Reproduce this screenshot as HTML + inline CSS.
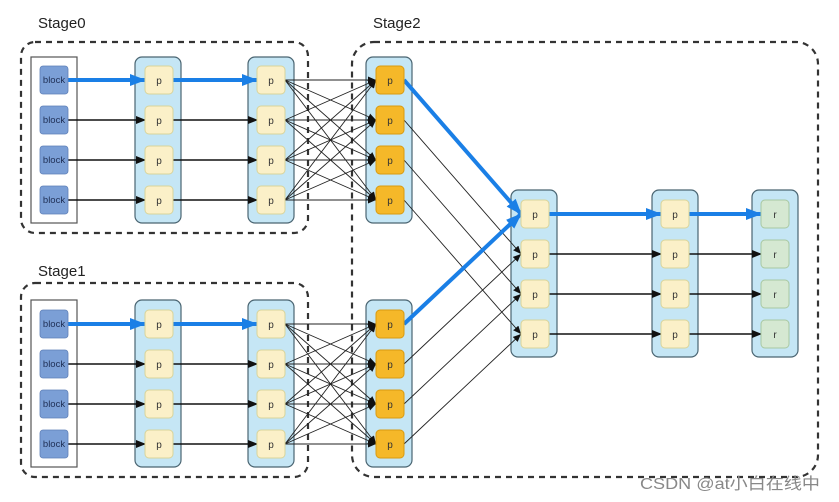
<!DOCTYPE html>
<html><head><meta charset="utf-8"><style>
html,body{margin:0;padding:0;background:#fff;}
svg{display:block;}
text{font-family:"Liberation Sans","Noto Sans CJK SC",sans-serif;}
</style></head><body>
<svg width="839" height="502" viewBox="0 0 839 502" xmlns="http://www.w3.org/2000/svg">
<defs>
<marker id="ab" markerWidth="10" markerHeight="8" refX="9" refY="4" orient="auto" markerUnits="userSpaceOnUse"><path d="M0,0 L10,4 L0,8 z" fill="#111"/></marker>
<marker id="abs" markerWidth="8" markerHeight="7" refX="8" refY="3.5" orient="auto" markerUnits="userSpaceOnUse"><path d="M0,0 L8,3.5 L0,7 z" fill="#111"/></marker>
<marker id="ablue" markerWidth="16" markerHeight="12" refX="15" refY="6" orient="auto" markerUnits="userSpaceOnUse"><path d="M0,0 L16,6 L0,12 z" fill="#1a7fe6"/></marker>
</defs>

<text x="38" y="28" font-size="15" fill="#222">Stage0</text>
<text x="38" y="276" font-size="15" fill="#222">Stage1</text>
<text x="373" y="28" font-size="15" fill="#222">Stage2</text>

<g fill="none" stroke="#333" stroke-width="2.2" stroke-dasharray="6,5">
<rect x="21" y="42" width="287" height="191" rx="14"/>
<rect x="21" y="283" width="287" height="194" rx="14"/>
<rect x="352" y="42" width="466" height="435" rx="22"/>
</g>

<rect x="31" y="57" width="46" height="166" fill="#fff" stroke="#555" stroke-width="1.2"/>
<rect x="31" y="300" width="46" height="167" fill="#fff" stroke="#555" stroke-width="1.2"/>

<g fill="#c5e6f5" stroke="#4a6572" stroke-width="1.2">
<rect x="135" y="57" width="46" height="166" rx="7"/>
<rect x="248" y="57" width="46" height="166" rx="7"/>
<rect x="366" y="57" width="46" height="166" rx="7"/>
<rect x="135" y="300" width="46" height="167" rx="7"/>
<rect x="248" y="300" width="46" height="167" rx="7"/>
<rect x="366" y="300" width="46" height="167" rx="7"/>
<rect x="511" y="190" width="46" height="167" rx="7"/>
<rect x="652" y="190" width="46" height="167" rx="7"/>
<rect x="752" y="190" width="46" height="167" rx="7"/>
</g>

<g stroke="#222" stroke-width="0.9" marker-end="url(#abs)">
<line x1="285" y1="80" x2="376" y2="80"/><line x1="285" y1="80" x2="376" y2="120"/><line x1="285" y1="80" x2="376" y2="160"/><line x1="285" y1="80" x2="376" y2="200"/>
<line x1="285" y1="120" x2="376" y2="80"/><line x1="285" y1="120" x2="376" y2="120"/><line x1="285" y1="120" x2="376" y2="160"/><line x1="285" y1="120" x2="376" y2="200"/>
<line x1="285" y1="160" x2="376" y2="80"/><line x1="285" y1="160" x2="376" y2="120"/><line x1="285" y1="160" x2="376" y2="160"/><line x1="285" y1="160" x2="376" y2="200"/>
<line x1="285" y1="200" x2="376" y2="80"/><line x1="285" y1="200" x2="376" y2="120"/><line x1="285" y1="200" x2="376" y2="160"/><line x1="285" y1="200" x2="376" y2="200"/>
<line x1="285" y1="324" x2="376" y2="324"/><line x1="285" y1="324" x2="376" y2="364"/><line x1="285" y1="324" x2="376" y2="404"/><line x1="285" y1="324" x2="376" y2="444"/>
<line x1="285" y1="364" x2="376" y2="324"/><line x1="285" y1="364" x2="376" y2="364"/><line x1="285" y1="364" x2="376" y2="404"/><line x1="285" y1="364" x2="376" y2="444"/>
<line x1="285" y1="404" x2="376" y2="324"/><line x1="285" y1="404" x2="376" y2="364"/><line x1="285" y1="404" x2="376" y2="404"/><line x1="285" y1="404" x2="376" y2="444"/>
<line x1="285" y1="444" x2="376" y2="324"/><line x1="285" y1="444" x2="376" y2="364"/><line x1="285" y1="444" x2="376" y2="404"/><line x1="285" y1="444" x2="376" y2="444"/>
<line x1="404" y1="120" x2="521" y2="254"/><line x1="404" y1="160" x2="521" y2="294"/><line x1="404" y1="200" x2="521" y2="334"/>
<line x1="404" y1="364" x2="521" y2="254"/><line x1="404" y1="404" x2="521" y2="294"/><line x1="404" y1="444" x2="521" y2="334"/>
</g>

<g stroke="#111" stroke-width="1.6" marker-end="url(#ab)">
<line x1="68" y1="120" x2="145" y2="120"/><line x1="68" y1="160" x2="145" y2="160"/><line x1="68" y1="200" x2="145" y2="200"/>
<line x1="173" y1="120" x2="257" y2="120"/><line x1="173" y1="160" x2="257" y2="160"/><line x1="173" y1="200" x2="257" y2="200"/>
<line x1="68" y1="364" x2="145" y2="364"/><line x1="68" y1="404" x2="145" y2="404"/><line x1="68" y1="444" x2="145" y2="444"/>
<line x1="173" y1="364" x2="257" y2="364"/><line x1="173" y1="404" x2="257" y2="404"/><line x1="173" y1="444" x2="257" y2="444"/>
<line x1="549" y1="254" x2="661" y2="254"/><line x1="549" y1="294" x2="661" y2="294"/><line x1="549" y1="334" x2="661" y2="334"/>
<line x1="689" y1="254" x2="761" y2="254"/><line x1="689" y1="294" x2="761" y2="294"/><line x1="689" y1="334" x2="761" y2="334"/>
</g>

<g stroke="#1a7fe6" stroke-width="4" marker-end="url(#ablue)" fill="none">
<line x1="68" y1="80" x2="145" y2="80"/><line x1="173" y1="80" x2="257" y2="80"/>
<line x1="68" y1="324" x2="145" y2="324"/><line x1="173" y1="324" x2="257" y2="324"/>
<line x1="404" y1="80" x2="521" y2="214"/><line x1="404" y1="324" x2="521" y2="214"/>
<line x1="549" y1="214" x2="661" y2="214"/><line x1="689" y1="214" x2="761" y2="214"/>
</g>

<g fill="#7b9fd6" stroke="#5f80b8" stroke-width="0.8">
<rect x="40" y="66" width="28" height="28" rx="3"/><rect x="40" y="106" width="28" height="28" rx="3"/><rect x="40" y="146" width="28" height="28" rx="3"/><rect x="40" y="186" width="28" height="28" rx="3"/>
<rect x="40" y="310" width="28" height="28" rx="3"/><rect x="40" y="350" width="28" height="28" rx="3"/><rect x="40" y="390" width="28" height="28" rx="3"/><rect x="40" y="430" width="28" height="28" rx="3"/>
</g>
<g font-size="9.5" fill="#1f2f55" text-anchor="middle">
<text x="54" y="83">block</text><text x="54" y="123">block</text><text x="54" y="163">block</text><text x="54" y="203">block</text>
<text x="54" y="327">block</text><text x="54" y="367">block</text><text x="54" y="407">block</text><text x="54" y="447">block</text>
</g>

<g fill="#fbf0c8" stroke="#d8d49a" stroke-width="1">
<rect x="145" y="66" width="28" height="28" rx="4"/><rect x="145" y="106" width="28" height="28" rx="4"/><rect x="145" y="146" width="28" height="28" rx="4"/><rect x="145" y="186" width="28" height="28" rx="4"/>
<rect x="257" y="66" width="28" height="28" rx="4"/><rect x="257" y="106" width="28" height="28" rx="4"/><rect x="257" y="146" width="28" height="28" rx="4"/><rect x="257" y="186" width="28" height="28" rx="4"/>
<rect x="145" y="310" width="28" height="28" rx="4"/><rect x="145" y="350" width="28" height="28" rx="4"/><rect x="145" y="390" width="28" height="28" rx="4"/><rect x="145" y="430" width="28" height="28" rx="4"/>
<rect x="257" y="310" width="28" height="28" rx="4"/><rect x="257" y="350" width="28" height="28" rx="4"/><rect x="257" y="390" width="28" height="28" rx="4"/><rect x="257" y="430" width="28" height="28" rx="4"/>
<rect x="521" y="200" width="28" height="28" rx="4"/><rect x="521" y="240" width="28" height="28" rx="4"/><rect x="521" y="280" width="28" height="28" rx="4"/><rect x="521" y="320" width="28" height="28" rx="4"/>
<rect x="661" y="200" width="28" height="28" rx="4"/><rect x="661" y="240" width="28" height="28" rx="4"/><rect x="661" y="280" width="28" height="28" rx="4"/><rect x="661" y="320" width="28" height="28" rx="4"/>
</g>
<g fill="#f5b829" stroke="#d99a10" stroke-width="1">
<rect x="376" y="66" width="28" height="28" rx="4"/><rect x="376" y="106" width="28" height="28" rx="4"/><rect x="376" y="146" width="28" height="28" rx="4"/><rect x="376" y="186" width="28" height="28" rx="4"/>
<rect x="376" y="310" width="28" height="28" rx="4"/><rect x="376" y="350" width="28" height="28" rx="4"/><rect x="376" y="390" width="28" height="28" rx="4"/><rect x="376" y="430" width="28" height="28" rx="4"/>
</g>
<g fill="#d5e8d2" stroke="#a8c8a2" stroke-width="1">
<rect x="761" y="200" width="28" height="28" rx="4"/><rect x="761" y="240" width="28" height="28" rx="4"/><rect x="761" y="280" width="28" height="28" rx="4"/><rect x="761" y="320" width="28" height="28" rx="4"/>
</g>
<g font-size="10" fill="#333" text-anchor="middle">
<text x="159" y="84">p</text><text x="159" y="124">p</text><text x="159" y="164">p</text><text x="159" y="204">p</text>
<text x="271" y="84">p</text><text x="271" y="124">p</text><text x="271" y="164">p</text><text x="271" y="204">p</text>
<text x="390" y="84">p</text><text x="390" y="124">p</text><text x="390" y="164">p</text><text x="390" y="204">p</text>
<text x="159" y="328">p</text><text x="159" y="368">p</text><text x="159" y="408">p</text><text x="159" y="448">p</text>
<text x="271" y="328">p</text><text x="271" y="368">p</text><text x="271" y="408">p</text><text x="271" y="448">p</text>
<text x="390" y="328">p</text><text x="390" y="368">p</text><text x="390" y="408">p</text><text x="390" y="448">p</text>
<text x="535" y="218">p</text><text x="535" y="258">p</text><text x="535" y="298">p</text><text x="535" y="338">p</text>
<text x="675" y="218">p</text><text x="675" y="258">p</text><text x="675" y="298">p</text><text x="675" y="338">p</text>
<text x="775" y="218">r</text><text x="775" y="258">r</text><text x="775" y="298">r</text><text x="775" y="338">r</text>
</g>

<text x="640" y="489" font-size="16" fill="#888" textLength="180" lengthAdjust="spacingAndGlyphs">CSDN @at小白在线中</text>
</svg>
</body></html>
